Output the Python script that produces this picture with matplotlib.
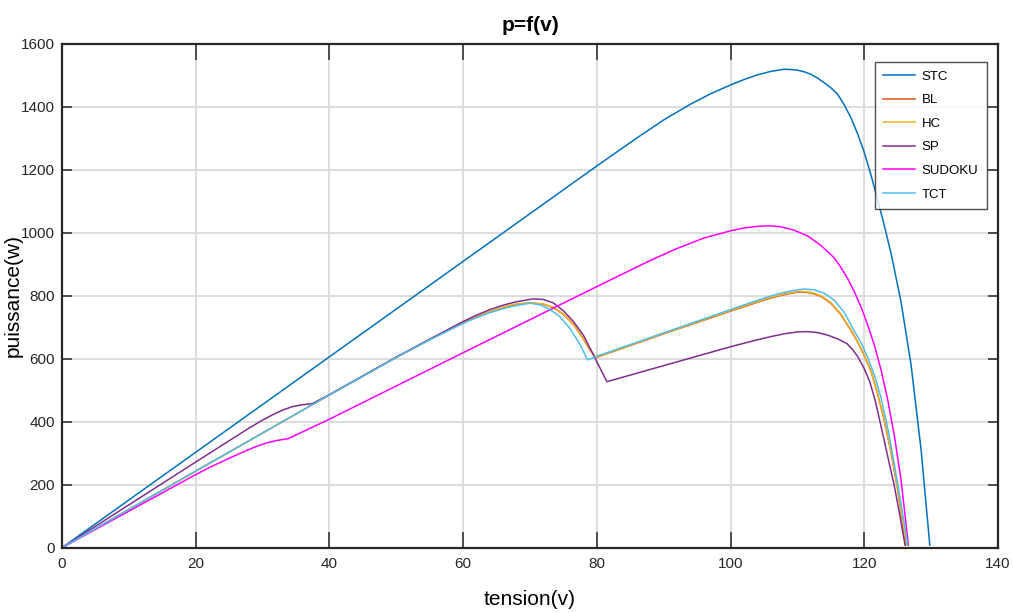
import matplotlib
matplotlib.use("Agg")
import matplotlib.pyplot as plt

# P-V curves of the PV array for each configuration / shading pattern
stc_v = [0, 40, 80, 86, 90, 94, 97, 100, 102, 104, 106, 108, 109, 110, 111, 112,
         113, 114, 115, 116, 117, 118, 119, 120, 121, 122, 123, 124, 125.5, 127,
         128.5, 129.8]
stc_p = [0, 606, 1212, 1301, 1358, 1408, 1441, 1469, 1486, 1501, 1512, 1519, 1518,
         1516, 1511, 1503, 1491, 1476, 1460, 1440, 1406, 1365, 1314, 1255, 1183,
         1105, 1022, 935, 780, 580, 310, 8]

tct_v = [0, 20, 40, 50, 55, 60, 62, 64, 66, 68, 70, 71.5, 73, 74.5, 76, 77.5, 78.6,
         80, 90, 100, 103, 105, 107, 109, 110.9, 112.5, 114, 115.5, 117, 118.5,
         119.5, 120.5, 121.5, 122.5, 123.5, 124.5, 125.5, 126.5]
tct_p = [0, 243, 485, 604, 660, 712, 730, 746, 759, 769, 776, 771, 756, 733, 695, 645,
         596, 608, 682, 756, 778, 792, 805, 815, 821, 819, 808, 786, 747, 688,
         652, 605, 548, 477, 380, 265, 140, 8]

hc_v = [0, 20, 40, 50, 55, 60, 62, 64, 66, 68, 70, 72, 73.5, 75, 76.5, 78, 79, 79.8,
        90, 100, 103, 105, 107, 108.8, 110.4, 112, 113.5, 115, 116.5, 118, 119,
        120, 121, 122, 123, 124, 125, 126.3]
hc_p = [0, 243, 485, 605, 661, 716, 734, 750, 764, 774, 778, 774, 763, 742, 710, 663,
        628, 604, 680, 753, 774, 788, 800, 809, 814, 811, 800, 778, 742, 692, 655,
        612, 562, 490, 405, 305, 185, 8]

bl_v = [0, 20, 40, 50, 55, 60, 62, 64, 66, 68, 70, 72, 73.5, 75, 76.5, 78, 79, 79.8,
        90, 100, 103, 105, 107, 108.8, 110.4, 112, 113.5, 115, 116.5, 118, 119,
        120, 121, 122, 123, 124, 125, 126.2]
bl_p = [0, 243, 485, 604, 660, 715, 733, 749, 763, 773, 777, 773, 762, 741, 709, 662,
        627, 603, 679, 751, 772, 786, 798, 807, 812, 809, 798, 776, 740, 690, 653,
        610, 560, 488, 403, 303, 183, 8]

sp_v = [0, 10, 20, 28, 30, 31.5, 33, 34.5, 36, 37.4, 40, 50, 55, 60, 62, 64, 66, 68,
        70.5, 72, 73.5, 75, 76.5, 78, 79.5, 80.5, 81.5, 90, 100, 104, 106, 108, 110,
        111.4, 113, 114.5, 116, 117.4, 118.3, 119.1, 120, 120.8, 121.6, 122.3,
        123.4, 124.5, 125.3, 126.1]
sp_p = [0, 136, 272, 380, 405, 422, 437, 448, 454, 457, 486, 605, 662, 718, 738, 756,
        770, 781, 790, 788, 777, 752, 718, 674, 612, 569, 527, 578, 638, 660, 670,
        679, 685, 686, 683, 675, 663, 648, 628, 604, 568, 528, 470, 405,
        300, 195, 105, 8]

sudoku_v = [0, 10, 20, 22, 25, 27, 29, 30.5, 32, 33.8, 40, 60, 80, 88, 92, 96, 100,
            102, 104, 105.7, 107.5, 109.5, 111.5, 113.5, 115.5, 116.5, 117.5, 118.5,
            119.5, 120.5, 121.5, 122.5, 123.5, 124.5, 125.5, 126.6]
sudoku_p = [0, 116, 232, 254, 284, 303, 321, 332, 340, 346, 408, 619, 829, 912, 950,
            983, 1006, 1015, 1020, 1022, 1019, 1008, 990, 960, 920, 890, 855, 813,
            765, 708, 643, 565, 470, 355, 215, 8]

series = [
    ("STC", stc_v, stc_p, "#0072BD"),
    ("BL", bl_v, bl_p, "#D95319"),
    ("HC", hc_v, hc_p, "#EDB120"),
    ("SP", sp_v, sp_p, "#7E2F8E"),
    ("SUDOKU", sudoku_v, sudoku_p, "#FF00FF"),
    ("TCT", tct_v, tct_p, "#4DBEEE"),
]

plt.rcParams["font.family"] = ["Liberation Sans", "DejaVu Sans"]

fig = plt.figure(figsize=(10.13, 6.13), dpi=100)
ax = fig.add_axes([62 / 1013, 1 - 547.7 / 613, 936 / 1013, 504 / 613])

for name, v, p, c in series:
    ax.plot(v, p, color=c, lw=1.1, label=name, solid_joinstyle="round")

ax.set_xlim(0, 140)
ax.set_ylim(0, 1600)
ax.set_xticks(range(0, 141, 20))
ax.set_yticks(range(0, 1601, 200))
ax.grid(True, color="#dadada", lw=1.3)
ax.set_axisbelow(True)
ax.tick_params(direction="in", width=1.1, top=True, right=True,
               labelsize=11, colors="#262626")
ax.tick_params(axis="x", length=11.5, pad=7)
ax.tick_params(axis="y", length=7.2, pad=5)
for s in ax.spines.values():
    s.set_linewidth(1.6)
    s.set_color("#262626")

ax.set_title("p=f(v)", fontsize=15, fontweight="bold", pad=9)
ax.set_xlabel("tension(v)", fontsize=15)
ax.set_ylabel("puissance(w)", fontsize=15)
ax.xaxis.set_label_coords(0.5, -0.083)
ax.yaxis.set_label_coords(-0.042, 0.5)

leg = ax.legend(loc="upper right", bbox_to_anchor=(0.988, 0.964), fontsize=9.5,
                frameon=True, fancybox=False, edgecolor="#262626", handlelength=2.4,
                borderpad=0.65, labelspacing=0.86, handletextpad=0.5, borderaxespad=0)
leg.get_frame().set_linewidth(1.0)

fig.savefig("out.png", dpi=100)
